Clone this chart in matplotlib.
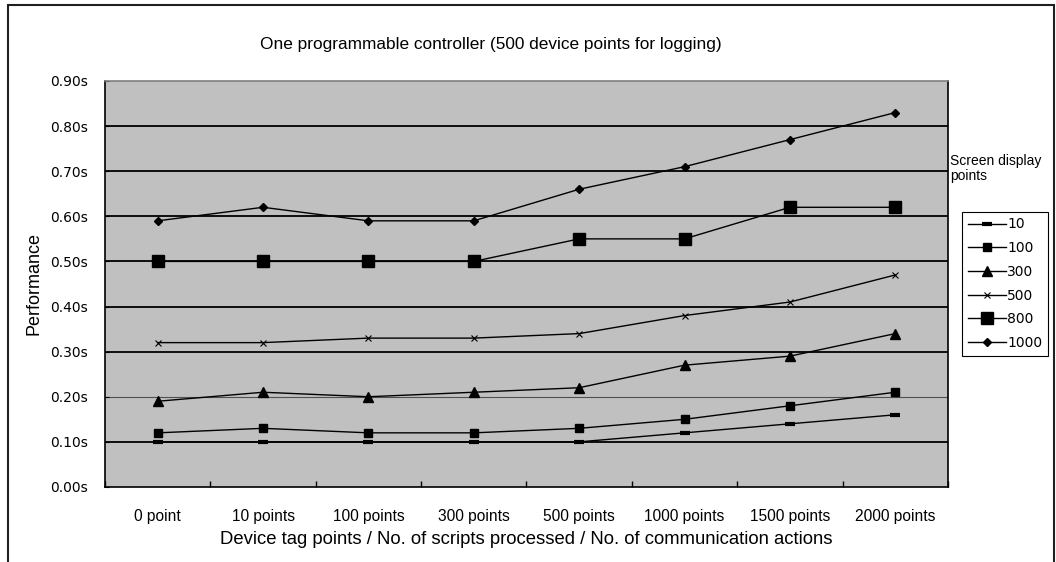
import matplotlib
matplotlib.use('agg')
import matplotlib.pyplot as plt
from matplotlib.patches import Rectangle
from matplotlib.ticker import FixedLocator, FuncFormatter

categories = ['0 point', '10 points', '100 points', '300 points',
              '500 points', '1000 points', '1500 points', '2000 points']
series_names = ['10', '100', '300', '500', '800', '1000']
perf_10 = [0.10, 0.10, 0.10, 0.10, 0.10, 0.12, 0.14, 0.16]
perf_100 = [0.12, 0.13, 0.12, 0.12, 0.13, 0.15, 0.18, 0.21]
perf_300 = [0.19, 0.21, 0.20, 0.21, 0.22, 0.27, 0.29, 0.34]
perf_500 = [0.32, 0.32, 0.33, 0.33, 0.34, 0.38, 0.41, 0.47]
perf_800 = [0.50, 0.50, 0.50, 0.50, 0.55, 0.55, 0.62, 0.62]
perf_1000 = [0.59, 0.62, 0.59, 0.59, 0.66, 0.71, 0.77, 0.83]
y_ticks = [0.0, 0.1, 0.2, 0.3, 0.4, 0.5, 0.6, 0.7, 0.8, 0.9]

plt.rcParams['font.family'] = ['Liberation Sans', 'DejaVu Sans']

fig = plt.figure(figsize=(10.56, 5.62), dpi=100)
ax = fig.add_axes([0.0994, 0.1335, 0.7983, 0.7224])
ax.set_facecolor('#c0c0c0')

# horizontal gridlines, the 0.20 one is lighter in the original workbook
for y in y_ticks[1:-1]:
    if abs(y - 0.2) < 1e-9:
        ax.axhline(y, color='#505050', lw=0.8, zorder=1)
    else:
        ax.axhline(y, color='black', lw=1.3, zorder=1)

styles = [
    dict(marker='_', ms=7, mew=3),
    dict(marker='s', ms=5.5),
    dict(marker='^', ms=6.5),
    dict(marker='x', ms=4, mew=0.8),
    dict(marker='s', ms=9),
    dict(marker='D', ms=4.5),
]
data = [perf_10, perf_100, perf_300, perf_500, perf_800, perf_1000]
x = list(range(len(categories)))
handles = []
for name, vals, st in zip(series_names, data, styles):
    h, = ax.plot(x, vals, color='black', lw=1.0, mfc='black', mec='black',
                 label=name, zorder=3, **st)
    handles.append(h)

ax.set_xlim(-0.5, len(categories) - 0.5)
ax.set_ylim(0, 0.9)

# category boundaries get tick marks, labels sit between them
ax.xaxis.set_major_locator(FixedLocator([i - 0.5 for i in range(len(categories) + 1)]))
ax.xaxis.set_major_formatter(FuncFormatter(lambda v, p: ''))
ax.xaxis.set_minor_locator(FixedLocator(x))
ax.set_xticklabels(categories, minor=True, fontsize=11.2)
ax.tick_params(axis='x', which='major', direction='in', length=4, width=1)
ax.tick_params(axis='x', which='minor', length=0, pad=16)

ax.set_yticks(y_ticks)
ax.set_yticklabels(['%.2fs' % v for v in y_ticks], family='DejaVu Sans', fontsize=10)
ax.tick_params(axis='y', direction='in', length=3, pad=12)

for side in ['left', 'bottom', 'right']:
    ax.spines[side].set_color('black')
    ax.spines[side].set_linewidth(1.2)
ax.spines['top'].set_color('#808080')
ax.spines['top'].set_linewidth(1.2)

ax.set_xlabel('Device tag points / No. of scripts processed / No. of communication actions',
              fontsize=13.3, labelpad=5)
ax.set_ylabel('Performance', fontsize=13, labelpad=6)

fig.text(0.465, 0.92, 'One programmable controller (500 device points for logging)',
         ha='center', va='center', fontsize=12.4)

fig.text(0.9, 0.70, 'Screen display\npoints', ha='left', va='center',
         fontsize=10, linespacing=1.05)

leg = fig.legend(handles=handles, loc='upper left', bbox_to_anchor=(0.911, 0.623),
                 frameon=True, fancybox=False, edgecolor='black', framealpha=1,
                 handlelength=2.8, handletextpad=0.05, labelspacing=0.7,
                 borderpad=0.4, borderaxespad=0,
                 prop={'family': 'DejaVu Sans', 'size': 10})
leg.get_frame().set_linewidth(0.8)

# frame around the whole chart object
fig.patches.append(Rectangle((8 / 1056, -0.2), 1046 / 1056, 1.2 - 5 / 562,
                             transform=fig.transFigure, fill=False,
                             edgecolor='#202020', lw=1.5, clip_on=False))

fig.savefig('out.png', dpi=100)
